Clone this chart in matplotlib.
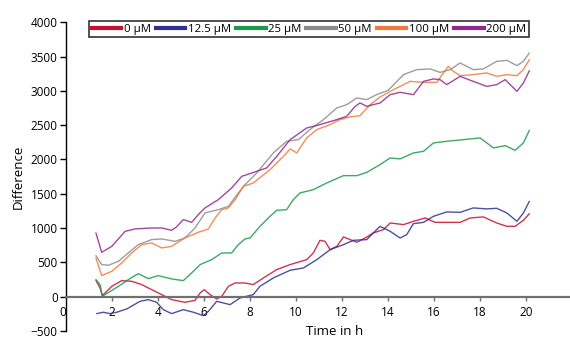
import matplotlib
matplotlib.use("Agg")
import matplotlib.pyplot as plt

plt.rcParams['font.family'] = ['Open Sans', 'DejaVu Sans']
plt.rcParams['font.size'] = 8

# Messwerte je Konzentration (Zeit in h, Differenz)
t_0 = [1.3, 1.48, 1.58, 1.99, 2.42, 2.86, 3.29, 3.72, 4.16, 4.59, 5.17, 5.61, 5.83, 6.01, 6.26,
       6.55, 6.77, 7.06, 7.35, 7.78, 8.14, 8.58, 9.16, 9.74, 10.46, 10.75, 11.04, 11.26, 11.48,
       11.77, 12.06, 12.35, 12.64, 13.0, 13.36, 13.8, 14.09, 14.67, 15.1, 15.61, 16.04, 16.55,
       17.13, 17.57, 18.14, 18.72, 19.16, 19.52, 19.88, 20.14]
y_0 = [238, 126, 15, 150, 233, 223, 175, 102, 29, -44, -83, -54, 54, 102, 29,
       -34, 5, 150, 199, 199, 175, 272, 394, 467, 539, 637, 821, 806, 685,
       733, 870, 831, 792, 855, 929, 977, 1074, 1050, 1098, 1147, 1083, 1083,
       1083, 1147, 1162, 1074, 1025, 1025, 1113, 1210]

t_12 = [1.33, 1.62, 1.91, 2.2, 2.64, 3.22, 3.58, 3.94, 4.23, 4.59, 5.1, 5.54, 5.97, 6.19, 6.55,
        7.13, 7.57, 8.14, 8.43, 9.01, 9.74, 10.32, 10.9, 11.48, 12.06, 12.49, 13.07, 13.36,
        13.65, 14.09, 14.52, 14.81, 15.1, 15.54, 15.97, 16.55, 17.13, 17.7, 18.29, 18.72,
        19.16, 19.6, 19.88, 20.14]
y_12 = [-248, -228, -248, -228, -180, -68, -44, -83, -190, -248, -190, -228, -277, -214, -68,
        -117, -19, 29, 150, 272, 384, 418, 539, 685, 758, 821, 831, 929,
        1025, 952, 855, 904, 1064, 1083, 1171, 1235, 1229, 1293, 1279, 1288,
        1220, 1098, 1220, 1390]

t_25 = [1.3, 1.48, 1.58, 2.28, 2.71, 3.14, 3.58, 4.01, 4.59, 5.1, 5.46, 5.83, 6.33, 6.77, 7.2,
        7.49, 7.78, 8.0, 8.43, 8.87, 9.16, 9.59, 9.88, 10.17, 10.75, 11.33, 12.06, 12.64,
        13.07, 13.65, 14.09, 14.52, 15.1, 15.54, 15.97, 16.55, 17.27, 18.0, 18.29, 18.58,
        19.09, 19.52, 19.88, 20.14]
y_25 = [248, 175, 5, 150, 248, 335, 262, 306, 258, 233, 345, 467, 539, 637, 637,
        758, 841, 855, 1025, 1171, 1259, 1268, 1414, 1512, 1560, 1657, 1764, 1764,
        1812, 1925, 2022, 2008, 2095, 2119, 2241, 2265, 2289, 2314, 2241, 2168,
        2202, 2133, 2241, 2425]

t_50 = [1.3, 1.55, 1.84, 2.28, 2.71, 3.14, 3.72, 4.16, 4.74, 5.17, 5.61, 6.04, 6.62, 7.06, 7.49,
        7.78, 8.29, 9.01, 9.59, 10.1, 10.6, 11.19, 11.77, 12.2, 12.64, 13.07, 13.5, 14.0,
        14.67, 15.25, 15.83, 16.26, 16.7, 17.13, 17.7, 18.14, 18.72, 19.16, 19.6, 19.88, 20.14]
y_50 = [598, 467, 457, 515, 637, 758, 831, 841, 806, 855, 1001, 1220, 1268, 1317, 1512,
        1633, 1803, 2095, 2265, 2289, 2435, 2581, 2751, 2799, 2897, 2872, 2945, 3008,
        3237, 3310, 3320, 3270, 3310, 3407, 3310, 3320, 3431, 3445, 3368, 3431, 3553]

t_100 = [1.3, 1.55, 1.99, 2.42, 2.86, 3.29, 3.72, 4.16, 4.59, 5.17, 5.75, 6.19, 6.48, 6.77, 7.06,
         7.35, 7.71, 8.14, 8.87, 9.45, 9.74, 10.03, 10.46, 10.9, 11.48, 11.91, 12.35, 12.78,
         13.22, 13.65, 14.23, 14.96, 15.54, 16.12, 16.4, 16.62, 16.84, 17.13, 17.7, 18.29,
         18.72, 19.16, 19.6, 19.88, 20.14]
y_100 = [564, 306, 369, 491, 637, 758, 783, 710, 733, 855, 938, 987, 1147, 1268, 1293,
         1414, 1608, 1657, 1852, 2046, 2153, 2095, 2314, 2435, 2508, 2581, 2620, 2639,
         2799, 2911, 3018, 3139, 3125, 3125, 3262, 3358, 3285, 3222, 3237, 3262,
         3212, 3237, 3222, 3310, 3455]

t_200 = [1.3, 1.55, 1.99, 2.57, 3.0, 3.72, 4.16, 4.59, 4.8, 5.1, 5.46, 5.75, 6.04, 6.62, 7.2,
         7.64, 8.29, 8.72, 9.16, 9.74, 10.46, 11.04, 11.77, 12.2, 12.57, 12.78, 13.07, 13.65,
         14.09, 14.52, 15.1, 15.54, 15.97, 16.26, 16.55, 17.13, 17.7, 18.29, 18.72, 19.09,
         19.6, 19.88, 20.14]
y_200 = [929, 646, 733, 952, 987, 1001, 1001, 967, 1016, 1123, 1083, 1196, 1293, 1414, 1585,
         1754, 1827, 1876, 2046, 2289, 2459, 2508, 2581, 2629, 2775, 2824, 2775, 2824,
         2945, 2979, 2945, 3139, 3174, 3164, 3091, 3212, 3139, 3066, 3091, 3164,
         2993, 3115, 3295]

labels = ["0 µM", "12.5 µM", "25 µM", "50 µM", "100 µM", "200 µM"]
colors = ["#c8102e", "#2e3192", "#1b9a4b", "#8c8c8c", "#f07a3a", "#92278f"]
series = [(t_0, y_0), (t_12, y_12), (t_25, y_25), (t_50, y_50), (t_100, y_100), (t_200, y_200)]

x_ticks = [0, 2, 4, 6, 8, 10, 12, 14, 16, 18, 20]
y_ticks = [-500, 0, 500, 1000, 1500, 2000, 2500, 3000, 3500, 4000]

fig = plt.figure(figsize=(5.7, 3.38), dpi=100)
ax = fig.add_axes([0.1158, 0.021, 0.888, 0.913])

for (t, y), c in zip(series, colors):
    ax.plot(t, y, color=c, lw=1.0, alpha=0.85, solid_capstyle="round")

ax.set_xlim(0, 22)
ax.set_ylim(-500, 4000)
ax.set_xticks(x_ticks)
ax.set_yticks(y_ticks)

# x-Achse liegt auf y = 0
ax.spines['bottom'].set_position(('data', 0))
ax.spines['bottom'].set_color("#707070")
ax.spines['bottom'].set_linewidth(1.6)
ax.spines['left'].set_linewidth(1.0)
ax.spines['top'].set_visible(False)
ax.spines['right'].set_visible(False)
ax.tick_params(axis='x', length=3, width=1.0, color="#707070", pad=4, labelsize=8.5)
ax.tick_params(axis='y', length=4, width=1.0, pad=2, labelsize=8.5)
ax.xaxis.get_major_ticks()[0].label1.set_horizontalalignment('right')
ax.xaxis.get_major_ticks()[0].tick1line.set_visible(False)

ax.set_ylabel("Difference", fontsize=9.5, labelpad=4)
ax.set_xlabel("Time in h", fontsize=9.5)
ax.xaxis.set_label_coords(0.53, 0.02)

handles = [plt.Line2D([], [], color=c, lw=3) for c in colors]
leg = fig.legend(handles, labels, loc="center", bbox_to_anchor=(0.542, 0.914), ncol=6,
                 frameon=True, fancybox=False, edgecolor="black", fontsize=8.2,
                 handlelength=2.6, handletextpad=0.2, columnspacing=0.45,
                 borderpad=0.25, borderaxespad=0)
leg.get_frame().set_linewidth(1.2)

fig.savefig("out.png", dpi=100)
